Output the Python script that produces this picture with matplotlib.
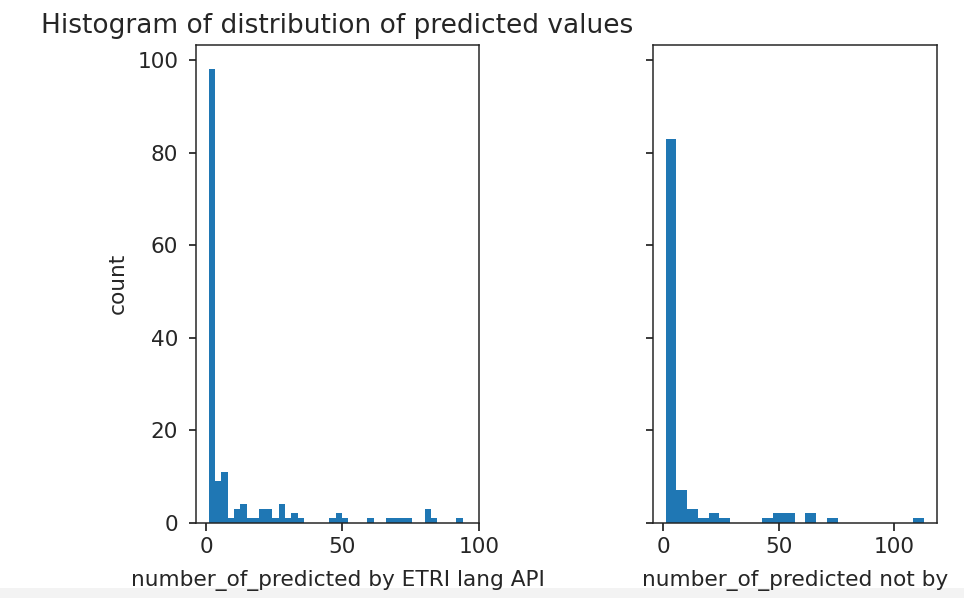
import numpy as np
import matplotlib
matplotlib.use("Agg")
import matplotlib.pyplot as plt
from matplotlib.patches import Rectangle

# ---- data ----
left_range = (1.0, 94.0)
left_counts = [98, 9, 11, 1, 3, 4, 1, 1, 3, 3,
               1, 4, 1, 2, 1, 0, 0, 0, 0, 1,
               2, 1, 0, 0, 0, 1, 0, 0, 1, 1,
               1, 1, 0, 0, 3, 1, 0, 0, 0, 1]

right_range = (1.0, 113.0)
right_counts = [83, 7, 3, 1, 2, 1, 0, 0, 0, 1,
                2, 2, 0, 2, 0, 1, 0, 0, 0, 0,
                0, 0, 0, 1]

title = "Histogram of distribution of predicted values"
left_xlabel = "number_of_predicted by ETRI lang API"
right_xlabel = "number_of_predicted not by"
ylabel = "count"
yticks = [0, 20, 40, 60, 80, 100]
xticks = [0, 50, 100]

plt.rcParams["font.size"] = 11.5
plt.rcParams["text.color"] = "#262626"
plt.rcParams["axes.labelcolor"] = "#262626"
plt.rcParams["xtick.labelcolor"] = "#262626"
plt.rcParams["ytick.labelcolor"] = "#262626"
plt.rcParams["xtick.major.size"] = 4
plt.rcParams["ytick.major.size"] = 4
plt.rcParams["ytick.major.pad"] = 5.5
plt.rcParams["axes.edgecolor"] = "#222222"

DPI = 135
fig = plt.figure(figsize=(964 / DPI, 598 / DPI), dpi=DPI)
W, H = 964, 598
ax1 = fig.add_axes([196 / W, (H - 522.7) / H, (479 - 196) / W, (522.7 - 44.7) / H])
ax2 = fig.add_axes([652.7 / W, (H - 522.7) / H, (936.7 - 652.7) / W, (522.7 - 44.7) / H],
                   sharey=ax1)


def draw_hist(ax, rng, counts):
    edges = np.linspace(rng[0], rng[1], len(counts) + 1)
    centers = (edges[:-1] + edges[1:]) / 2
    ax.hist(centers, bins=edges, weights=counts, color="#1f77b4")


draw_hist(ax1, left_range, left_counts)
draw_hist(ax2, right_range, right_counts)

ax1.set_yticks(yticks)
ax1.set_xticks(xticks)
ax2.set_xticks(xticks)
ax2.tick_params(labelleft=False)
ax1.set_ylim(0, 103.3)

ax1.set_title(title, fontsize=14.1)
ax1.set_xlabel(left_xlabel, labelpad=7)
ax2.set_xlabel(right_xlabel, labelpad=7)
ax1.set_ylabel(ylabel, labelpad=5)

fig.patches.append(Rectangle((0, 0), 1, 10 / H, transform=fig.transFigure,
                             facecolor="#f3f3f3", edgecolor="none", zorder=-1))

fig.savefig("out.png", dpi=DPI)
